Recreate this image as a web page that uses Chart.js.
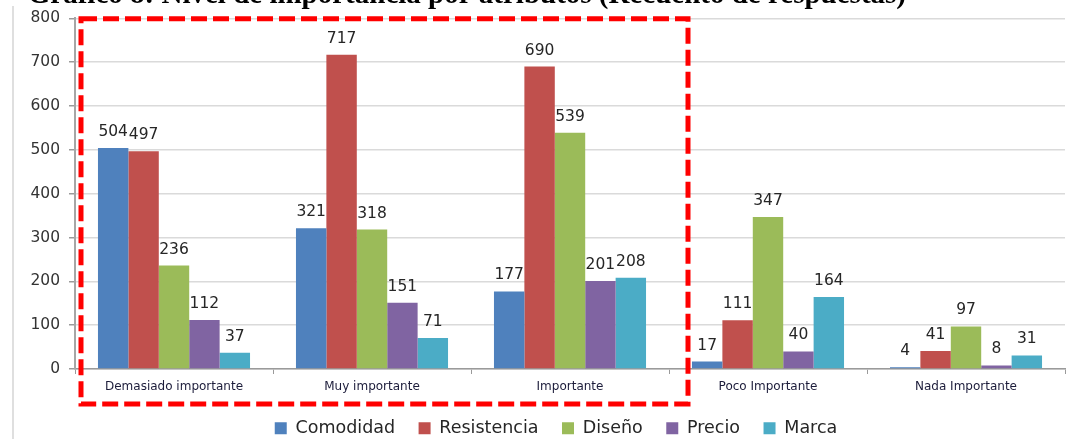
<!DOCTYPE html>
<html lang="es">
<head>
<meta charset="utf-8"/>
<title>Nivel de importancia por atributos</title>
<script src="https://cdn.jsdelivr.net/npm/chart.js"></script>
<style>
  html, body { margin: 0; padding: 0; background: #fff; overflow: hidden; }
  canvas { display: block; }
</style>
</head>
<body>
<canvas id="grafico" width="1086" height="447"></canvas>
<script>
  const categorias = ["Demasiado importante", "Muy importante", "Importante", "Poco Importante", "Nada Importante"];
  const comodidad   = [504, 321, 177, 17, 4];
  const resistencia = [497, 717, 690, 111, 41];
  const diseno      = [236, 318, 539, 347, 97];
  const precio      = [112, 151, 201, 40, 8];
  const marca       = [37, 71, 208, 164, 31];
  const ejeY = { min: 0, max: 800, paso: 100 };
  const titulo = "Gráfico 8: Nivel de importancia por atributos (Recuento de respuestas)";

  // marco gris a la izquierda, como el borde del gráfico de Excel
  const marco = {
    id: 'marco',
    beforeDraw(c) {
      const ctx = c.ctx;
      ctx.save();
      ctx.fillStyle = '#fff';
      ctx.fillRect(0, 0, c.width, c.height);
      ctx.strokeStyle = '#d4d4d4';
      ctx.lineWidth = 1.5;
      ctx.beginPath();
      ctx.moveTo(13, 6);
      ctx.lineTo(13, c.height);
      ctx.stroke();
      ctx.restore();
    }
  };

  // valor encima de cada barra
  const etiquetas = {
    id: 'etiquetas',
    afterDatasetsDraw(c) {
      const ctx = c.ctx;
      ctx.save();
      ctx.font = '15.5px "DejaVu Sans"';
      ctx.fillStyle = '#262626';
      ctx.textAlign = 'center';
      ctx.textBaseline = 'alphabetic';
      c.data.datasets.forEach((ds, i) => {
        c.getDatasetMeta(i).data.forEach((barra, j) => {
          ctx.fillText(ds.data[j], barra.x, barra.y - 12);
        });
      });
      ctx.restore();
    }
  };

  // recuadro rojo punteado sobre las tres primeras categorías + título
  const recuadro = {
    id: 'recuadro',
    afterDraw(c) {
      const ctx = c.ctx;
      const x = c.scales.x, y = c.scales.y, area = c.chartArea;
      const izq = area.left + 6;
      const der = (x.getPixelForValue(2) + x.getPixelForValue(3)) / 2 + 19;
      const arr = y.getPixelForValue(ejeY.max) + 0.5;
      const abj = area.bottom + 35;
      ctx.save();
      ctx.strokeStyle = '#ff0000';
      ctx.lineWidth = 5;
      ctx.setLineDash([16, 6]);
      ctx.strokeRect(izq, arr, der - izq, abj - arr);
      ctx.setLineDash([]);

      ctx.font = 'bold 29px "Liberation Serif"';
      ctx.fillStyle = '#000';
      ctx.textAlign = 'right';
      ctx.textBaseline = 'alphabetic';
      ctx.fillText(titulo, 906, 3);
      ctx.restore();
    }
  };

  const chart = new Chart(document.getElementById('grafico').getContext('2d'), {
    type: 'bar',
    data: {
      labels: categorias,
      datasets: [
        { label: 'Comodidad',   data: comodidad,   backgroundColor: '#4F81BD' },
        { label: 'Resistencia', data: resistencia, backgroundColor: '#C0504D' },
        { label: 'Diseño',      data: diseno,      backgroundColor: '#9BBB59' },
        { label: 'Precio',      data: precio,      backgroundColor: '#8064A2' },
        { label: 'Marca',       data: marca,       backgroundColor: '#4BACC6' }
      ]
    },
    options: {
      responsive: false,
      animation: false,
      categoryPercentage: 0.768,
      barPercentage: 1.0,
      layout: { padding: { top: 16, right: 4, left: 30, bottom: 0 } },
      plugins: {
        title: { display: false },
        tooltip: { enabled: false },
        legend: {
          position: 'bottom',
          labels: {
            boxWidth: 12,
            boxHeight: 12,
            padding: 23.5,
            color: '#262626',
            font: { family: '"DejaVu Sans"', size: 17.5 }
          }
        }
      },
      scales: {
        x: {
          afterFit: s => { s.height = 27; },
          grid: { drawOnChartArea: false, drawTicks: true, tickLength: 5, tickColor: '#9a9a9a', offset: true },
          border: { color: '#9a9a9a', width: 1.5 },
          ticks: { color: '#1c1c3a', padding: 6, font: { family: '"DejaVu Sans"', size: 12 } }
        },
        y: {
          min: ejeY.min,
          max: ejeY.max,
          afterFit: s => { s.width = 45; },
          grid: { color: '#dadada', lineWidth: 1.5, tickLength: 6, tickColor: '#9a9a9a' },
          border: { color: '#a6a6a6', width: 2 },
          ticks: { stepSize: ejeY.paso, color: '#333', padding: 9, font: { family: '"DejaVu Sans"', size: 15.5 } }
        },
        // margen derecho vacío
        margen: {
          type: 'linear',
          position: 'right',
          afterFit: s => { s.width = 17; },
          grid: { display: false },
          border: { display: false },
          ticks: { display: false }
        }
      }
    },
    plugins: [marco, etiquetas, recuadro]
  });
</script>
</body>
</html>
